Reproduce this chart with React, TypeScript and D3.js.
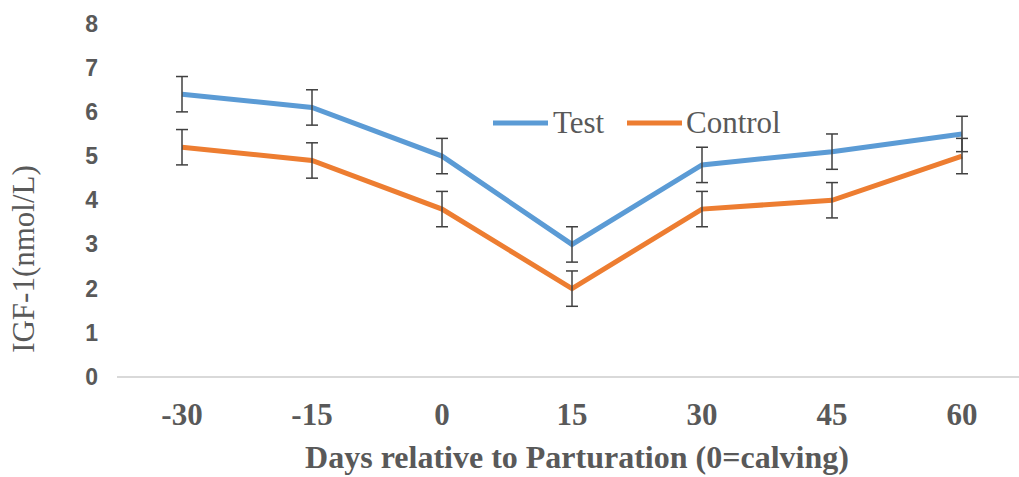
import React from "react";
import * as d3 from "d3";

// Sampling days relative to calving
const days = ["-30", "-15", "0", "15", "30", "45", "60"];
// Mean serum IGF-1 (nmol/L) per group
const testValues = [6.4, 6.1, 5.0, 3.0, 4.8, 5.1, 5.5];
const controlValues = [5.2, 4.9, 3.8, 2.0, 3.8, 4.0, 5.0];
// Standard error for each mean
const testErrors = [0.4, 0.4, 0.4, 0.4, 0.4, 0.4, 0.4];
const controlErrors = [0.4, 0.4, 0.4, 0.4, 0.4, 0.4, 0.4];
const yTicks = [0, 1, 2, 3, 4, 5, 6, 7, 8];

const W = 1019;
const H = 477;

const series = [
  { name: "Test", color: "#5b9bd5", values: testValues, errors: testErrors },
  { name: "Control", color: "#ed7d31", values: controlValues, errors: controlErrors },
];

export default function App() {
  const x = d3.scalePoint<string>().domain(days).range([182, 962]);
  const y = d3.scaleLinear().domain([0, 8]).range([377, 23.5]);
  const line = d3
    .line<number>()
    .x((_, i) => x(days[i]) as number)
    .y((d) => y(d));

  const serif = "'Liberation Serif', 'Times New Roman', serif";
  const sans = "'Liberation Sans', Arial, sans-serif";
  const textColor = "#595959";

  return (
    <svg
      width={W}
      height={H}
      style={{ position: "fixed", left: 0, top: 0, background: "#fff" }}
    >
      <rect width={W} height={H} fill="#fff" />
      {/* horizontal axis line */}
      <line x1={117} x2={W} y1={y(0)} y2={y(0)} stroke="#d9d9d9" strokeWidth={2} />

      {/* y tick labels */}
      {yTicks.map((t) => (
        <text
          key={t}
          x={98}
          y={y(t)}
          textAnchor="end"
          dominantBaseline="central"
          fontFamily={sans}
          fontWeight="bold"
          fontSize={23}
          fill={textColor}
        >
          {t}
        </text>
      ))}

      {/* y axis title */}
      <text
        transform={`translate(34, 259) rotate(-90)`}
        textAnchor="middle"
        fontFamily={serif}
        fontSize={31}
        fill={textColor}
      >
        IGF-1(nmol/L)
      </text>

      {/* x tick labels */}
      {days.map((d) => (
        <text
          key={d}
          x={x(d)}
          y={425}
          textAnchor="middle"
          fontFamily={serif}
          fontWeight="bold"
          fontSize={31}
          fill={textColor}
        >
          {d}
        </text>
      ))}

      {/* x axis title */}
      <text
        x={577}
        y={468}
        textAnchor="middle"
        fontFamily={serif}
        fontWeight="bold"
        fontSize={32}
        fill={textColor}
      >
        Days relative to Parturation (0=calving)
      </text>

      {/* series lines */}
      {series.map((s) => (
        <path
          key={s.name}
          d={line(s.values) || ""}
          fill="none"
          stroke={s.color}
          strokeWidth={5}
        />
      ))}

      {/* error bars */}
      {series.map((s) =>
        s.values.map((v, i) => {
          const cx = x(days[i]) as number;
          const top = y(v + s.errors[i]);
          const bot = y(v - s.errors[i]);
          return (
            <g key={s.name + i} stroke="#404040" strokeWidth={1.5}>
              <line x1={cx} x2={cx} y1={top} y2={bot} />
              <line x1={cx - 6} x2={cx + 6} y1={top} y2={top} />
              <line x1={cx - 6} x2={cx + 6} y1={bot} y2={bot} />
            </g>
          );
        })
      )}

      {/* legend */}
      <g>
        <line x1={493} x2={548} y1={123} y2={123} stroke={series[0].color} strokeWidth={5} />
        <text x={553} y={133} fontFamily={serif} fontSize={31} fill={textColor}>
          {series[0].name}
        </text>
        <line x1={627} x2={682} y1={123} y2={123} stroke={series[1].color} strokeWidth={5} />
        <text x={686} y={133} fontFamily={serif} fontSize={31} fill={textColor}>
          {series[1].name}
        </text>
      </g>
    </svg>
  );
}
